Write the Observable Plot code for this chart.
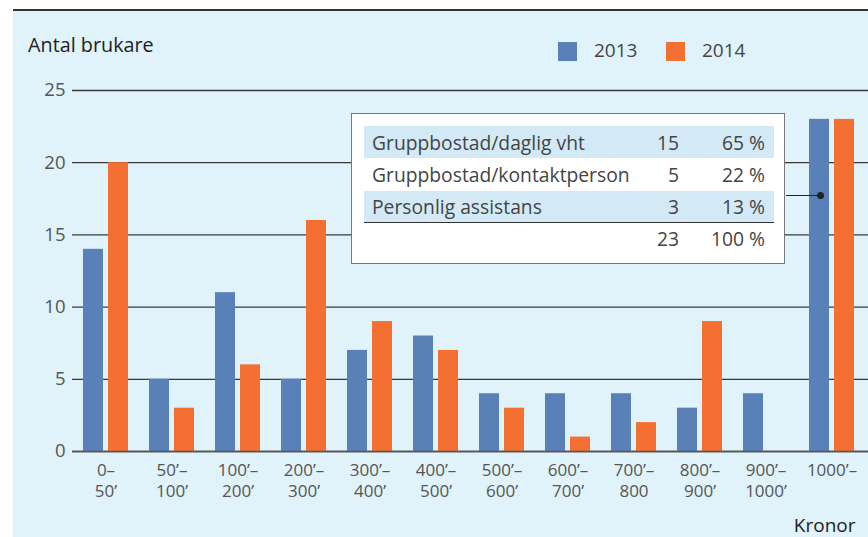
<!DOCTYPE html>
<html><head><meta charset="utf-8">
<script src="https://cdn.jsdelivr.net/npm/d3@7"></script>
<script src="https://cdn.jsdelivr.net/npm/@observablehq/plot@0.6"></script>
<style>
body{margin:0;background:#fff;font-family:"Open Sans",sans-serif;}
#wrap{position:absolute;left:13px;top:9px;width:855px;height:528px;border-top:2px solid #333;background:#e0f2fa;box-sizing:border-box;overflow:hidden}
#header{position:relative;height:61px}
#title{position:absolute;left:15px;top:22px;font-size:19.8px;line-height:24px;color:#222}
.sw{position:absolute;width:19px;height:19px;top:31px}
.lt{position:absolute;top:27px;font-size:19px;line-height:24px;color:#444}
#chart{position:absolute;left:0;top:61px}
#tbox{position:absolute;left:338px;top:102px;width:434px;height:151px;background:#fff;border:1.5px solid #777;box-sizing:border-box}
#tbox table{position:absolute;left:12px;top:12px;width:410px;border-collapse:collapse;table-layout:fixed;font-size:19.3px;color:#444}
#tbox td{padding:0;white-space:nowrap;overflow:visible}
#tbox td.l{padding-left:8px;width:242px}
#tbox td.n{text-align:right;width:65px}
#tbox td.p{text-align:right;padding-right:9px;width:86px}
#tbox tr.hl td{background:#d3eaf6}
#tbox tr.last td{border-top:1.5px solid #333}
#pline{position:absolute;left:773px;top:183.5px;width:34px;height:1.5px;background:#222}
#pdot{position:absolute;left:803.5px;top:180.5px;width:7px;height:7px;border-radius:50%;background:#222}
</style></head>
<body>
<div id="wrap">
  <div id="header">
    <div id="title">Antal brukare</div>
  </div>
  <div id="chart"></div>
  <div id="tbox"></div>
  <div id="pline"></div>
  <div id="pdot"></div>
</div>
<script>
const categories = ["0-50","50-100","100-200","200-300","300-400","400-500","500-600","600-700","700-800","800-900","900-1000","1000-"];
const tickLabels = ["0–\n50’","50’–\n100’","100’–\n200’","200’–\n300’","300’–\n400’","400’–\n500’","500’–\n600’","600’–\n700’","700’–\n800","800’–\n900’","900’–\n1000’","1000’–"];
const values2013 = [14, 5, 11, 5, 7, 8, 4, 4, 4, 3, 4, 23];
const values2014 = [20, 3, 6, 16, 9, 7, 3, 1, 2, 9, 0, 23];
const years = ["2013", "2014"];
const colors = ["#5a80b8", "#f37032"];
const yTicks = [0, 5, 10, 15, 20, 25];
const tableLabels = ["Gruppbostad/daglig vht", "Gruppbostad/kontaktperson", "Personlig assistans", ""];
const tableCounts = ["15", "5", "3", "23"];
const tablePercents = ["65 %", "22 %", "13 %", "100 %"];

const data = categories.flatMap((c, i) => [
  {cat: c, year: "2013", v: values2013[i]},
  {cat: c, year: "2014", v: values2014[i]}
]);
const labelOf = new Map(categories.map((c, i) => [c, tickLabels[i]]));

// legend
const header = document.getElementById("header");
const swLeft = [545, 653], txLeft = [581, 689];
years.forEach((y, i) => {
  const s = document.createElement("div");
  s.className = "sw"; s.style.left = swLeft[i] + "px"; s.style.background = colors[i];
  header.appendChild(s);
  const t = document.createElement("div");
  t.className = "lt"; t.style.left = txLeft[i] + "px"; t.textContent = y;
  header.appendChild(t);
});

// table
const rowH = [32, 33, 31, 33];
let html = "<table><colgroup><col style='width:250px'><col style='width:65px'><col style='width:95px'></colgroup>";
tableLabels.forEach((l, i) => {
  const cls = i === 0 || i === 2 ? "hl" : (i === 3 ? "last" : "");
  html += `<tr class="${cls}" style="height:${rowH[i]}px"><td class="l">${l}</td><td class="n">${tableCounts[i]}</td><td class="p">${tablePercents[i]}</td></tr>`;
});
html += "</table>";
document.getElementById("tbox").innerHTML = html;

const chart = Plot.plot({
  width: 855, height: 466,
  marginLeft: 59, marginRight: 0, marginTop: 18, marginBottom: 87,
  style: {background: "transparent", fontFamily: "Open Sans, sans-serif", fontSize: "18px", color: "#555", overflow: "visible"},
  x: {type: "band", domain: categories, paddingInner: 0.32, paddingOuter: 0, insetLeft: 10, insetRight: 13},
  y: {domain: [0, 25]},
  color: {domain: years, range: colors},
  marks: [
    Plot.ruleY(yTicks, {stroke: "#3a3a3a", strokeWidth: 1.3}),
    Plot.barY(data.filter(d => d.year === "2013"), {x: "cat", y: "v", fill: "year", insetRight: 25}),
    Plot.barY(data.filter(d => d.year === "2014"), {x: "cat", y: "v", fill: "year", insetLeft: 25}),
    Plot.ruleY([0], {stroke: "#555", strokeWidth: 1.5}),
    Plot.axisY({ticks: yTicks, tickSize: 0, tickPadding: 7, label: null, fontSize: 18.5}),
    Plot.axisX({tickSize: 0, tickPadding: 10, label: null, fontSize: 17, lineHeight: 1.22, tickFormat: d => labelOf.get(d)}),
    Plot.text(["Kronor"], {frameAnchor: "bottom-right", dx: -13, dy: 80, fill: "#222", fontSize: 19, lineAnchor: "bottom"})
  ]
});
document.getElementById("chart").appendChild(chart);
</script>
</body></html>
